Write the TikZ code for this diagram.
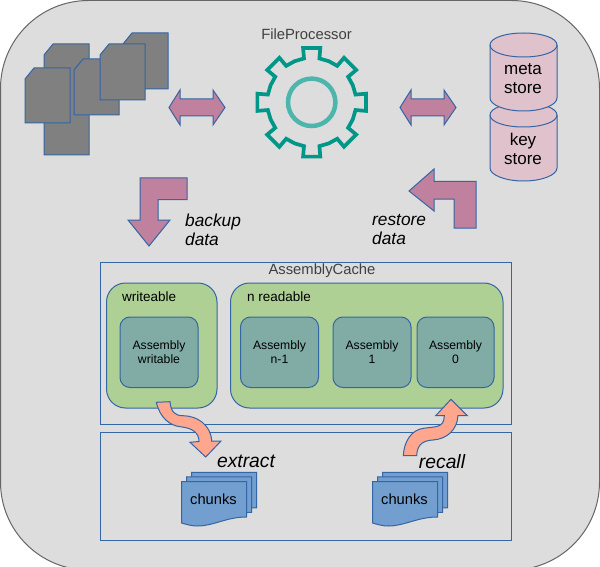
\documentclass[tikz,border=0pt]{standalone}
\usepackage{fontspec}
\setmainfont{Liberation Sans}
\definecolor{panelgray}{HTML}{DDDDDD}
\definecolor{edgeblue}{HTML}{3465A4}
\definecolor{docgray}{HTML}{808080}
\definecolor{mauve}{HTML}{BF819E}
\definecolor{storepink}{HTML}{E0C2CD}
\definecolor{groupgreen}{HTML}{AFD095}
\definecolor{asmteal}{HTML}{81ACA6}
\definecolor{salmon}{HTML}{FFA68F}
\definecolor{chunkblue}{HTML}{729FCF}
\definecolor{gearteal}{HTML}{009688}
\definecolor{hubteal}{HTML}{4DB6AC}
\tikzset{
  shapeline/.style={draw=edgeblue, line width=1pt},
  docsheet/.style={shapeline, fill=docgray},
  blockarrow/.style={shapeline, fill=mauve},
  bendarrow/.style={shapeline, fill=salmon},
  storecyl/.style={shapeline, fill=storepink},
  groupbox/.style={shapeline, fill=groupgreen, rounded corners=19pt},
  asmbox/.style={shapeline, fill=asmteal, rounded corners=10pt},
  chunksheet/.style={shapeline, fill=chunkblue},
  storetext/.style={font=\fontsize{17}{19}\selectfont, align=center},
  notetext/.style={font=\fontsize{17.3}{19}\selectfont\itshape, align=left, anchor=west, inner sep=0pt},
  steptext/.style={font=\fontsize{19.3}{22}\selectfont\itshape},
  asmtext/.style={font=\fontsize{12.2}{14}\selectfont, align=center},
  grouptext/.style={font=\fontsize{13.5}{16}\selectfont, anchor=west, inner sep=0pt},
  titletext/.style={font=\fontsize{14.8}{18}\selectfont, text=black!75},
  chunktext/.style={font=\fontsize{14.7}{18}\selectfont},
}

\begin{document}
\begin{tikzpicture}[x=1pt,y=-1pt]
  \useasboundingbox (0,0) rectangle (600,567);
  \draw[fill=panelgray, draw=black!60, line width=1pt, rounded corners=88pt] (0.5,0.5) rectangle (599.5,570);

  % input files
  \foreach \x/\y/\h in {44/44/111, 123/33/56, 25/68/55, 74/59/56, 100/44/56}
    \draw[docsheet] (\x+9,\y) -- (\x+45,\y) -- (\x+45,\y+\h) -- (\x,\y+\h) -- (\x,\y+11) -- cycle;

  % double arrows
  \foreach \x in {169,400}
    \draw[blockarrow] (\x,107.5) -- (\x+11,90) -- (\x+11,99) -- (\x+44,99) -- (\x+44,90)
      -- (\x+56,107.5) -- (\x+44,125) -- (\x+44,116) -- (\x+11,116) -- (\x+11,125) -- cycle;

  % gear
  \node[titletext] (fileprocessor) at (306.5,34) {FileProcessor};
  \begin{scope}[shift={(311.7,102.3)}]
    \draw[gearteal, line width=3.7pt, miter limit=4]
      (-10:44.5) \foreach \a in {0,45,...,315} {
        -- (\a-9:55) -- (\a+9:55) -- (\a+10:44.5) -- (\a+22.5:44.5) -- (\a+35:44.5)
      } -- cycle;
    \draw[hubteal, line width=4.5pt] (0,0) circle (23.7);
  \end{scope}

  % stores
  \foreach \y in {115,45} {
    \draw[storecyl] (490,\y) -- (490,\y+53) .. controls (490,\y+60) and (505,\y+66) .. (523.5,\y+66)
      .. controls (542,\y+66) and (557,\y+60) .. (557,\y+53) -- (557,\y)
      .. controls (557,\y-7) and (542,\y-12) .. (523.5,\y-12)
      .. controls (505,\y-12) and (490,\y-7) .. (490,\y) -- cycle;
    \draw[shapeline] (490,\y) .. controls (490,\y+7) and (505,\y+12) .. (523.5,\y+12)
      .. controls (542,\y+12) and (557,\y+7) .. (557,\y);
  }
  \node[storetext] (metastore) at (523,78.5) {meta\\store};
  \node[storetext] (keystore) at (523,148.5) {key\\store};

  % backup and restore
  \draw[blockarrow] (140,178) -- (187,178) -- (187,199.5) -- (158,199.5) -- (158,220) -- (170,220)
    -- (149,246) -- (128,220) -- (140,220) -- cycle;
  \node[notetext] (backupdata) at (185,229.5) {backup\\data};
  \draw[blockarrow] (409,191) -- (434,169) -- (434,181.5) -- (476,181.5) -- (476,228) -- (454,228)
    -- (454,199) -- (434,199) -- (434,211) -- cycle;
  \node[notetext] (restoredata) at (372,229.5) {restore\\data};

  % assembly cache
  \draw[shapeline] (100,262) rectangle (511.5,424.5);
  \node[titletext] (assemblycache) at (322,270.5) {AssemblyCache};
  \draw[groupbox] (106.5,283) rectangle (217,408);
  \draw[groupbox] (230.5,283) rectangle (503,408);
  \node[grouptext] (writeable) at (122,297) {writeable};
  \node[grouptext] (nreadable) at (247,297) {n readable};
  \foreach \x/\w/\name/\txt in {120/78/asmw/writable, 240.5/78/asmb/n-1, 333/78/asma/1, 417/77/asmz/0} {
    \draw[asmbox] (\x,317) rectangle (\x+\w,387.5);
    \node[asmtext] (\name) at (\x+\w/2,352) {Assembly\\\txt};
  }

  % chunk area
  \draw[shapeline] (100,432.5) rectangle (511.5,540.5);
  \foreach \x/\name in {181.5/chunksa, 372.5/chunksb} {
    \foreach \d in {10,5,0}
      \draw[chunksheet] (\x+\d,481.5-\d*0.92) -- (\x+\d+65,481.5-\d*0.92) -- (\x+\d+65,517-\d*0.92)
        .. controls (\x+\d+45,517-\d*0.92) and (\x+\d+32,526-\d*0.92) .. (\x+\d+16,526-\d*0.92)
        .. controls (\x+\d+10,526-\d*0.92) and (\x+\d+5,524.5-\d*0.92) .. (\x+\d,523-\d*0.92) -- cycle;
    \node[chunktext] (\name) at (\x+32,499) {chunks};
  }
  \draw[bendarrow] (156.3,402.3) -- (170,401.7)
    .. controls (171,412) and (175,415.7) .. (183,415.7)
    .. controls (197,415.7) and (211,425) .. (211.7,441)
    -- (221,441) -- (205.7,457) -- (190,442.3) -- (199,441.5)
    .. controls (199,433) and (193,428) .. (180,426.7)
    .. controls (170,425.5) and (160,418) .. (156.3,402.3) -- cycle;
  \draw[bendarrow] (403.3,455.7) .. controls (404,442) and (411,430) .. (423.3,428.3)
    .. controls (436,426.5) and (444,428) .. (444.3,415.7)
    -- (435.7,415.7) -- (451,399.3) -- (467.3,415.7) -- (458,415.7)
    .. controls (457,430) and (447,439) .. (433,440)
    .. controls (425,440.5) and (417,443) .. (416.7,455.7) -- cycle;
  \node[steptext] (extract) at (246,461.5) {extract};
  \node[steptext] (recall) at (442,461.5) {recall};
\end{tikzpicture}
\end{document}
